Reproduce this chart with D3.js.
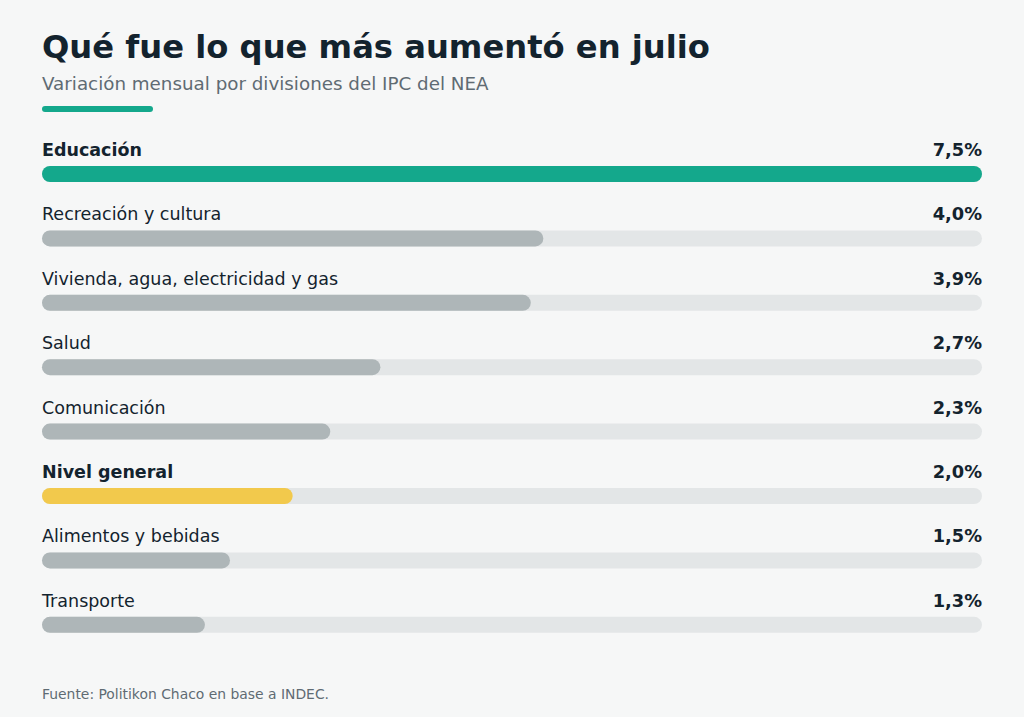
<!DOCTYPE html>
<html>
<head>
<meta charset="utf-8">
<script src="https://d3js.org/d3.v7.min.js"></script>
<style>
  html, body { margin: 0; padding: 0; background: #f6f7f7; }
  svg { display: block; font-family: "DejaVu Sans", sans-serif; }
</style>
</head>
<body>
<script>
  // data
  const categories = ["Educación", "Recreación y cultura", "Vivienda, agua, electricidad y gas",
    "Salud", "Comunicación", "Nivel general", "Alimentos y bebidas", "Transporte"];
  const values = [7.5, 4.0, 3.9, 2.7, 2.3, 2.0, 1.5, 1.3];
  const highlight = ["Educación", "Nivel general"];

  const width = 1024, height = 717;
  const margin = { left: 42, right: 42 };

  const svg = d3.select("body")
    .append("svg")
    .attr("width", width)
    .attr("height", height);

  svg.append("rect")
    .attr("width", width)
    .attr("height", height)
    .attr("fill", "#f6f7f7");

  // title block
  svg.append("text")
    .attr("x", margin.left)
    .attr("y", 58)
    .attr("font-size", 32.2)
    .attr("font-weight", "bold")
    .attr("fill", "#13232e")
    .text("Qué fue lo que más aumentó en julio");

  svg.append("text")
    .attr("x", margin.left)
    .attr("y", 90)
    .attr("font-size", 18.3)
    .attr("fill", "#5f6b73")
    .text("Variación mensual por divisiones del IPC del NEA");

  svg.append("rect")
    .attr("x", margin.left)
    .attr("y", 106)
    .attr("width", 111)
    .attr("height", 6)
    .attr("rx", 3)
    .attr("fill", "#14a88c");

  // scales
  const x = d3.scaleLinear()
    .domain([0, d3.max(values)])
    .range([0, width - margin.left - margin.right]);

  const y = d3.scaleBand()
    .domain(categories)
    .range([134, 134 + 64.4 * categories.length]);

  const barH = 16;

  const rows = svg.append("g")
    .attr("transform", `translate(${margin.left},0)`)
    .selectAll("g")
    .data(categories.map((c, i) => ({ name: c, value: values[i] })))
    .join("g")
    .attr("transform", d => `translate(0,${y(d.name)})`);

  rows.append("text")
    .attr("x", 0)
    .attr("y", 22)
    .attr("font-size", 17.5)
    .attr("font-weight", d => d.name === highlight[0] || d.name === highlight[1] ? "bold" : "normal")
    .attr("fill", "#13232e")
    .text(d => d.name);

  rows.append("text")
    .attr("x", x.range()[1])
    .attr("y", 22)
    .attr("text-anchor", "end")
    .attr("font-size", 17.8)
    .attr("font-weight", "bold")
    .attr("fill", "#13232e")
    .text(d => d3.format(".1f")(d.value).replace(".", ",") + "%");

  // track
  rows.append("rect")
    .attr("x", 0)
    .attr("y", 32)
    .attr("width", x.range()[1])
    .attr("height", barH)
    .attr("rx", barH / 2)
    .attr("fill", "#e3e6e7");

  // bar
  rows.append("rect")
    .attr("x", 0)
    .attr("y", 32)
    .attr("width", d => x(d.value))
    .attr("height", barH)
    .attr("rx", barH / 2)
    .attr("fill", d => d.name === highlight[0] ? "#14a88c"
      : d.name === highlight[1] ? "#f2c94c" : "#aeb6b8");

  svg.append("text")
    .attr("x", margin.left)
    .attr("y", 699)
    .attr("font-size", 13.9)
    .attr("fill", "#5f6b73")
    .text("Fuente: Politikon Chaco en base a INDEC.");
</script>
</body>
</html>
